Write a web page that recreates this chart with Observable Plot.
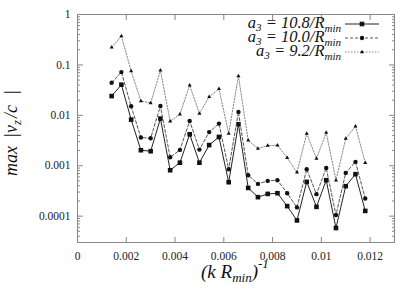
<!DOCTYPE html>
<html>
<head>
<meta charset="utf-8">
<script src="https://cdn.jsdelivr.net/npm/d3@7"></script>
<script src="https://cdn.jsdelivr.net/npm/@observablehq/plot@0.6"></script>
<style>
  body { margin: 0; background: #fff; }
  svg, svg text, svg tspan { font-family: "Liberation Serif", "DejaVu Serif", serif !important; }
</style>
</head>
<body>
<div id="chart"></div>
<script>
const xValues = [0.0014,0.0018,0.0022,0.0026,0.0030,0.0034,0.0038,0.0042,0.0046,0.0050,0.0054,0.0058,0.0062,0.0066,0.0070,0.0074,0.0078,0.0082,0.0086,0.0090,0.0094,0.0098,0.0102,0.0106,0.0110,0.0114,0.0118];
const seriesA = [0.0241,0.0405,0.00822,0.00203,0.00194,0.00861,0.000814,0.00115,0.00420,0.00115,0.00257,0.00372,0.000471,0.00664,0.000363,0.000238,0.000276,0.000285,0.000158,0.0000822,0.000478,0.000153,0.000516,0.0000581,0.000393,0.000679,0.000127];
const seriesB = [0.0444,0.0720,0.0151,0.00362,0.00351,0.0153,0.00147,0.00206,0.00771,0.00209,0.00465,0.00685,0.000853,0.0117,0.000649,0.000436,0.000500,0.000516,0.000285,0.000149,0.000853,0.000273,0.000904,0.000105,0.000720,0.00119,0.000224];
const seriesC = [0.222,0.372,0.0754,0.0192,0.0175,0.0778,0.0076,0.0105,0.0393,0.0108,0.0232,0.0335,0.00434,0.060,0.0032,0.00219,0.00251,0.00255,0.00143,0.00074,0.00434,0.00139,0.00454,0.000516,0.00346,0.00606,0.00114];
const seriesNames = ["10.8", "10.0", "9.2"];
const xTicks = [0, 0.002, 0.004, 0.006, 0.008, 0.010, 0.012];
const yTicks = [1, 0.1, 0.01, 0.001, 0.0001];
const yMinor = [];
for (const d of [1e-5, 1e-4, 1e-3, 1e-2, 1e-1]) for (let k = 2; k <= 9; k++) { const v = d * k; if (v > 3e-5 && v < 1) yMinor.push(v); }

const FONT = "'Liberation Serif', 'DejaVu Serif', serif";
const styles = [
  {stroke: "#222", dash: null, symbol: "square", r: 2.6},
  {stroke: "#555", dash: "3,2", symbol: "circle", r: 2.2},
  {stroke: "#888", dash: "1.5,1.5", symbol: "triangle", r: 1.5}
];
const allSeries = [seriesA, seriesB, seriesC];
const rows = [];
allSeries.forEach((s, si) => s.forEach((v, i) => rows.push({x: xValues[i], y: v, s: si})));

const fmt = d3.format("~g");
const marks = [Plot.frame({stroke: "#888"})];
allSeries.forEach((s, si) => {
  const data = rows.filter(d => d.s === si);
  const st = styles[si];
  marks.push(Plot.line(data, {x: "x", y: "y", stroke: st.stroke, strokeWidth: 1, strokeDasharray: st.dash}));
  marks.push(Plot.dot(data, {x: "x", y: "y", symbol: st.symbol, r: st.r, fill: "#111", stroke: "none"}));
});
marks.push(
  Plot.axisX({ticks: xTicks, tickSize: -5, tickFormat: () => "", stroke: "#888"}),
  Plot.axisX({anchor: "top", ticks: xTicks, tickSize: -5, tickFormat: () => "", stroke: "#888"}),
  Plot.axisX({ticks: xTicks, tickSize: 0, tickPadding: 9, tickFormat: fmt, fontSize: 11.5, fill: "#222"}),
  Plot.axisY({ticks: yTicks, tickSize: -6, tickFormat: () => "", stroke: "#888"}),
  Plot.axisY({anchor: "right", ticks: yTicks, tickSize: -6, tickFormat: () => "", stroke: "#888"}),
  Plot.axisY({ticks: yMinor, tickSize: -3, tickFormat: () => "", stroke: "#888"}),
  Plot.axisY({anchor: "right", ticks: yMinor, tickSize: -3, tickFormat: () => "", stroke: "#888"}),
  Plot.axisY({ticks: yTicks, tickSize: 0, tickPadding: 7, tickFormat: fmt, fontSize: 11.5, fill: "#222"})
);

const svg = Plot.plot({
  width: 415,
  height: 291,
  marginTop: 14,
  marginRight: 21,
  marginBottom: 49,
  marginLeft: 77,
  style: {background: "#fff", fontFamily: FONT},
  x: {type: "linear", domain: [0, 0.013], label: null},
  y: {type: "log", domain: [3e-5, 1], label: null},
  marks
});
document.getElementById("chart").appendChild(svg);

const root = d3.select(svg);
// y-axis label
const yl = root.append("text")
  .attr("transform", "translate(17,133) rotate(-90)")
  .attr("text-anchor", "middle")
  .attr("font-style", "italic").attr("font-size", 18).attr("fill", "#111");
yl.append("tspan").text("max");
yl.append("tspan").attr("dx", 8).text("|v");
yl.append("tspan").attr("dy", 4).attr("font-size", 13).text("z");
yl.append("tspan").attr("dy", -4).attr("dx", 2).text("/c");
yl.append("tspan").attr("dx", 10).text("|");

// x-axis label
const xl = root.append("text")
  .attr("x", 201).attr("y", 278).attr("text-anchor", "start")
  .attr("font-style", "italic").attr("font-size", 19).attr("fill", "#111");
xl.append("tspan").text("(k R");
xl.append("tspan").attr("dy", 4).attr("font-size", 13).text("min");
xl.append("tspan").attr("dy", -4).text(")");
xl.append("tspan").attr("dy", -10).attr("font-size", 13).text("-1");

// legend
seriesNames.forEach((name, i) => {
  const cy = 24 + 14 * i;
  const st = styles[i];
  const t = root.append("text").attr("x", 341).attr("y", cy + 4).attr("text-anchor", "end")
    .attr("font-style", "italic").attr("font-size", 16.5).attr("fill", "#111");
  t.append("tspan").text("a");
  t.append("tspan").attr("dy", 3).attr("font-size", 11).text("3");
  t.append("tspan").attr("dy", -3).text(" = " + name + "/R");
  t.append("tspan").attr("dy", 4).attr("font-size", 11).text("min");
  root.append("line").attr("x1", 345).attr("x2", 379).attr("y1", cy).attr("y2", cy)
    .attr("stroke", st.stroke).attr("stroke-dasharray", st.dash);
  const sym = {square: d3.symbolSquare, circle: d3.symbolCircle, triangle: d3.symbolTriangle}[st.symbol];
  root.append("path").attr("transform", `translate(362,${cy})`)
    .attr("d", d3.symbol(sym, Math.PI * st.r * st.r)()).attr("fill", "#111");
});
</script>
</body>
</html>
